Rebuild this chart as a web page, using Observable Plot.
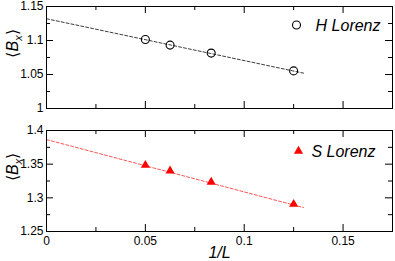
<!DOCTYPE html>
<html><head><meta charset="utf-8">
<script src="https://cdn.jsdelivr.net/npm/d3@7"></script>
<script src="https://cdn.jsdelivr.net/npm/@observablehq/plot@0.6"></script>
<style>
body{margin:0;background:#fff;}
#c{width:395px;}
#c svg{display:block;font-family:"Liberation Sans",Arial,sans-serif;}
#c svg text{font-family:"Liberation Sans",Arial,sans-serif;}
</style>
</head><body><div id="c"></div>
<script>
// data
const invL = [0.05, 0.0625, 0.0833, 0.125];
const hLorenz = [1.1015, 1.0932, 1.0815, 1.0553];
const sLorenz = [1.3485, 1.3400, 1.3233, 1.2905];
const fitX = [0, 0.13];
const fitH = [1.1320, 1.0520];
const fitS = [1.3865, 1.2855];
const xMajor = [0, 0.05, 0.1, 0.15];
const xMinor = [0.025, 0.075, 0.125];
const yMajorH = [1, 1.05, 1.1, 1.15];
const yMinorH = [1.025, 1.075, 1.125];
const yMajorS = [1.25, 1.3, 1.35, 1.4];
const yMinorS = [1.275, 1.325, 1.375];
const legendH = ["H Lorenz"];
const legendS = ["S Lorenz"];

const W = 395, ML = 46, MR = 3;
const font = "Liberation Sans, Arial, sans-serif";

function frameTicks(plotH, plotW, yMaj, yMin) {
  const M = 7, m = 4;
  return [
    Plot.tickX(xMajor, {x: d => d, insetBottom: plotH - M, stroke: "#000"}),
    Plot.tickX(xMinor, {x: d => d, insetBottom: plotH - m, stroke: "#000"}),
    Plot.tickX(xMajor, {x: d => d, insetTop: plotH - M, stroke: "#000"}),
    Plot.tickX(xMinor, {x: d => d, insetTop: plotH - m, stroke: "#000"}),
    Plot.tickY(yMaj, {y: d => d, insetRight: plotW - M, stroke: "#000"}),
    Plot.tickY(yMin, {y: d => d, insetRight: plotW - m, stroke: "#000"}),
    Plot.tickY(yMaj, {y: d => d, insetLeft: plotW - M, stroke: "#000"}),
    Plot.tickY(yMin, {y: d => d, insetLeft: plotW - m, stroke: "#000"})
  ];
}

function panel({H, MT, MB, yDom, yMaj, yMin, ys, fit, color, symbol, r, filled, legend, legDx, legDy, txtDx, txtDy, showX}) {
  const plotH = H - MT - MB, plotW = W - ML - MR;
  const pts = invL.map((x, i) => ({x, y: ys[i]}));
  const fl = fitX.map((x, i) => ({x, y: fit[i]}));
  const marks = [
    Plot.line(fl, {x: "x", y: "y", stroke: color, strokeWidth: 0.9, strokeDasharray: "3,2", strokeOpacity: color === "#000" ? 0.85 : 0.75}),
    Plot.dot(pts, {x: "x", y: "y", symbol, r, stroke: filled ? "none" : color, fill: filled ? color : "none", strokeWidth: 1.1}),
    Plot.dot([0], {frameAnchor: "top-right", dx: legDx, dy: legDy, symbol, r, stroke: filled ? "none" : color, fill: filled ? color : "none", strokeWidth: 1.1}),
    Plot.text(legend, {text: d => d, frameAnchor: "top-right", dx: txtDx, dy: txtDy, textAnchor: "end", lineAnchor: "middle", fontSize: 16, fontStyle: "italic", fontFamily: font, fill: "#000"}),
    ...frameTicks(plotH, plotW, yMaj, yMin),
    Plot.frame({stroke: "#000", strokeWidth: 1}),
    Plot.axisY({ticks: yMaj, tickSize: 0, tickPadding: 3, tickFormat: d => String(d), fontSize: 12, fontFamily: font, fill: "#000", label: null}),
    Plot.text(["Bx"], {frameAnchor: "left", dx: -34, rotate: -90, fontSize: 16, fontFamily: font, text: d => d, className: "ylab"})
  ];
  if (showX) {
    marks.push(Plot.axisX({ticks: xMajor, tickSize: 0, tickPadding: 5, tickFormat: d => String(d), fontSize: 12, fontFamily: font, fill: "#000", label: null}));
    marks.push(Plot.text(["1/L"], {text: d => d, frameAnchor: "bottom", dy: 21, lineAnchor: "middle", fontSize: 16, fontStyle: "italic", fontFamily: font}));
  }
  const p = Plot.plot({
    width: W, height: H,
    marginLeft: ML, marginRight: MR, marginTop: MT, marginBottom: MB,
    style: {fontFamily: font, fontSize: "12px", color: "#000", background: "#fff", overflow: "visible"},
    x: {domain: [0, 0.175], axis: null},
    y: {domain: yDom, axis: null},
    marks
  });
  d3.select(p).selectAll(".ylab text").each(function() {
    const t = d3.select(this);
    t.text(null);
    t.append("tspan").text("\u27E8").attr("font-size", 16);
    t.append("tspan").text("B").attr("font-style", "italic");
    t.append("tspan").text("x").attr("font-style", "italic").attr("font-size", 11).attr("dy", 4);
    t.append("tspan").text("\u27E9").attr("font-size", 16).attr("dy", -4);
  });
  return p;
}

const topPanel = panel({H: 120, MT: 6, MB: 12, yDom: [1, 1.15], yMaj: yMajorH, yMin: yMinorH, ys: hLorenz, fit: fitH,
  color: "#000", symbol: "circle", r: 4, filled: false, legend: legendH, legDx: -96, legDy: 18.5, txtDx: -12, txtDy: 19, showX: false});
const botPanel = panel({H: 141, MT: 10, MB: 30, yDom: [1.25, 1.4], yMaj: yMajorS, yMin: yMinorS, ys: sLorenz, fit: fitS,
  color: "#ff0000", symbol: "triangle", r: 3.4, filled: true, legend: legendS, legDx: -94, legDy: 20.5, txtDx: -17, txtDy: 21.5, showX: true});
document.getElementById("c").append(topPanel, botPanel);
</script>
</body></html>
